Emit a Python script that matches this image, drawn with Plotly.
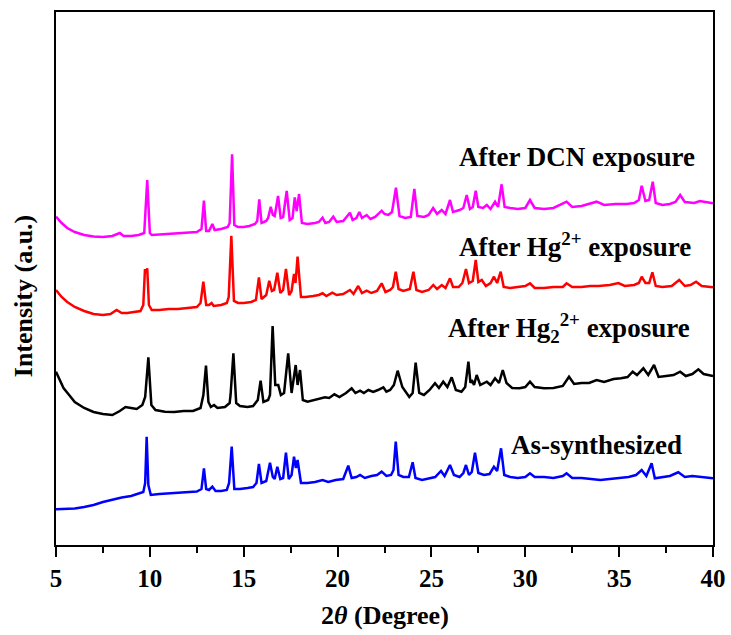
import plotly.graph_objects as go

# Powder XRD patterns, (2theta, intensity) pairs; intensities already stacked with offsets.
AS_SYNTHESIZED = [
    (5.0, 35.7), (5.5, 36), (6.0, 36.5), (6.5, 38), (7.0, 40), (7.5, 43), (8.0, 45.5), (8.5, 47.5),
    (9.0, 49), (9.4, 51), (9.65, 53), (9.75, 62), (9.83, 108.3), (9.92, 60), (10.05, 50), (10.5, 51),
    (11.0, 51.5), (11.5, 52), (12.0, 52.5), (12.5, 53.5), (12.75, 56), (12.88, 76.7), (13.0, 56),
    (13.15, 55), (13.33, 58.3), (13.5, 54), (13.8, 54), (14.1, 55), (14.22, 62), (14.36, 98.3),
    (14.5, 56), (14.8, 56), (15.2, 57), (15.5, 58), (15.68, 62), (15.81, 81), (15.95, 62), (16.2, 64),
    (16.4, 82.3), (16.55, 68), (16.65, 66), (16.79, 78.3), (16.95, 66), (17.1, 67), (17.25, 92.3),
    (17.4, 66), (17.55, 70), (17.68, 88.3), (17.78, 77), (17.87, 85), (18.05, 62), (18.4, 62),
    (18.8, 63), (19.2, 65), (19.5, 63), (19.9, 65), (20.3, 66), (20.57, 79.3), (20.75, 67), (21.0, 68),
    (21.2, 70), (21.45, 67), (21.8, 69), (22.1, 70), (22.35, 73.3), (22.6, 69), (22.85, 70),
    (22.98, 75), (23.1, 103.3), (23.25, 70), (23.5, 68), (23.8, 68), (24.0, 82.7), (24.15, 67),
    (24.5, 65), (24.9, 67), (25.2, 68), (25.51, 74), (25.7, 69), (25.99, 80), (26.2, 70), (26.5, 68),
    (26.7, 72), (26.84, 80), (27.0, 70), (27.15, 73), (27.32, 92.3), (27.5, 72), (27.8, 70),
    (28.1, 71), (28.33, 78.3), (28.5, 74), (28.71, 96.7), (28.88, 70), (29.2, 68), (29.6, 67),
    (30.0, 68), (30.25, 71.7), (30.5, 68), (31.0, 68), (31.5, 67), (32.0, 69), (32.2, 71.7),
    (32.5, 67), (33.0, 67), (33.5, 66), (34.0, 65), (34.5, 66), (35.0, 67), (35.5, 68), (35.9, 70),
    (36.2, 75), (36.45, 69), (36.73, 81.7), (36.9, 66.7), (37.3, 68), (37.7, 69), (38.15, 72.7),
    (38.5, 68), (38.9, 69), (39.3, 68), (39.7, 67), (40.0, 66.7),
]

AFTER_HG2_2 = [
    (5.0, 173.3), (5.2, 165), (5.4, 157), (5.7, 150), (6.0, 143), (6.5, 137), (7.0, 133), (7.5, 131),
    (8.0, 130), (8.4, 134), (8.7, 138), (9.0, 137), (9.3, 136), (9.6, 140), (9.75, 148), (9.92, 187.7),
    (10.08, 140), (10.3, 135), (10.8, 133.3), (11.3, 133), (11.8, 134), (12.3, 134), (12.7, 137),
    (12.85, 150), (12.99, 179.3), (13.12, 143), (13.25, 138), (13.42, 140), (13.6, 137), (14.0, 138),
    (14.25, 142), (14.3, 150), (14.45, 191.7), (14.6, 142), (14.8, 139), (15.2, 138), (15.5, 139),
    (15.75, 145), (15.9, 164.3), (16.05, 143), (16.3, 145), (16.4, 150), (16.54, 219), (16.68, 160),
    (16.84, 160), (16.98, 150), (17.15, 152), (17.37, 191.7), (17.55, 152), (17.77, 180), (17.87, 160),
    (18.0, 175), (18.15, 145), (18.4, 143.3), (18.8, 145), (19.1, 146), (19.33, 147.7), (19.55, 147),
    (19.83, 150.7), (20.1, 148), (20.45, 152), (20.75, 156.7), (20.95, 152), (21.2, 154.3),
    (21.4, 152), (21.64, 155), (21.9, 153), (22.15, 155), (22.44, 157.7), (22.6, 153.3), (22.8, 155),
    (23.0, 160), (23.2, 174.3), (23.45, 158), (23.82, 148), (24.0, 152), (24.16, 182.3), (24.35, 152),
    (24.6, 150), (24.9, 155), (25.19, 161.7), (25.4, 157), (25.63, 163.3), (25.85, 158),
    (26.08, 167.7), (26.3, 155), (26.6, 153.3), (26.8, 158), (26.97, 183.3), (27.08, 162),
    (27.15, 165), (27.27, 160), (27.41, 170), (27.6, 160), (27.95, 163.3), (28.15, 160),
    (28.39, 166.7), (28.6, 162), (28.8, 175), (29.0, 162), (29.3, 157), (29.7, 156.7), (30.0, 158),
    (30.25, 163.3), (30.5, 158), (31.0, 156.7), (31.5, 157), (32.0, 159), (32.33, 168.3), (32.6, 161),
    (33.0, 162), (33.4, 162), (33.8, 165), (34.2, 163), (34.7, 166), (35.1, 166.7), (35.45, 168),
    (35.72, 173.3), (35.95, 170), (36.29, 176.7), (36.55, 170), (36.86, 180), (37.1, 168),
    (37.5, 169), (37.9, 170), (38.25, 173.3), (38.55, 169), (38.9, 171), (39.22, 175.7), (39.5, 171),
    (39.8, 170), (40.0, 169),
]

AFTER_HG2PLUS = [
    (5.0, 255), (5.3, 248), (5.6, 243), (6.0, 238), (6.5, 234), (7.0, 231), (7.5, 230), (7.9, 231),
    (8.23, 235), (8.5, 232), (8.8, 232), (9.2, 233), (9.5, 234), (9.65, 240), (9.74, 276), (9.8, 272),
    (9.86, 276.7), (9.95, 240), (10.1, 235), (10.5, 235), (11.0, 236), (11.5, 236), (12.0, 237),
    (12.5, 238), (12.7, 242), (12.85, 263.3), (13.0, 240), (13.15, 240), (13.29, 242), (13.4, 239),
    (13.8, 240), (14.1, 242), (14.2, 248), (14.34, 309.3), (14.48, 244), (14.7, 242), (15.0, 242),
    (15.4, 243), (15.65, 245), (15.81, 267.7), (15.95, 246), (16.2, 250), (16.36, 264.3), (16.5, 254),
    (16.62, 255), (16.79, 272.3), (16.95, 252), (17.1, 255), (17.25, 276), (17.42, 250), (17.55, 254),
    (17.68, 271), (17.76, 262), (17.87, 288.3), (18.05, 248), (18.3, 248), (18.7, 249), (19.0, 250),
    (19.2, 251.7), (19.4, 249), (19.72, 252.3), (19.95, 250), (20.3, 251), (20.66, 255), (20.85, 251),
    (21.1, 259), (21.3, 252), (21.55, 254.3), (21.8, 252), (22.1, 254), (22.35, 261.7), (22.55, 253),
    (22.8, 255), (22.95, 258), (23.1, 273.3), (23.25, 256), (23.5, 254), (23.85, 256), (24.04, 273.3),
    (24.2, 255), (24.5, 253), (24.85, 255), (25.1, 260), (25.3, 256), (25.55, 260), (25.75, 257),
    (25.99, 266.7), (26.15, 258), (26.45, 258), (26.65, 262), (26.84, 276), (27.0, 262), (27.2, 264),
    (27.36, 285), (27.5, 263), (27.68, 265), (27.9, 259), (28.15, 262), (28.33, 268.3), (28.5, 262),
    (28.69, 273.3), (28.85, 258), (29.2, 257), (29.6, 258), (30.0, 259), (30.25, 261.7), (30.5, 257),
    (31.0, 257), (31.5, 258), (32.0, 258), (32.2, 261.7), (32.5, 258), (33.0, 258), (33.45, 259),
    (33.9, 259), (34.5, 260), (34.96, 262), (35.3, 259), (35.8, 260), (36.05, 262), (36.2, 268.3),
    (36.4, 262), (36.6, 262), (36.77, 272.7), (36.95, 259), (37.3, 258), (37.8, 259), (38.2, 265),
    (38.5, 259), (38.8, 260), (39.1, 263.3), (39.4, 259), (39.7, 258), (40.0, 257.7),
]

AFTER_DCN = [
    (5.0, 328.3), (5.3, 322), (5.6, 317), (6.0, 313), (6.5, 310), (7.0, 308.5), (7.5, 308), (8.0, 309),
    (8.4, 312), (8.6, 309), (9.0, 309), (9.4, 310), (9.7, 312), (9.86, 365), (10.0, 312), (10.1, 310),
    (10.5, 310.5), (11.0, 311), (11.5, 312), (12.0, 312.5), (12.5, 313), (12.75, 316), (12.88, 344.3),
    (13.0, 314), (13.15, 314), (13.33, 321), (13.45, 315), (13.8, 316), (14.15, 318), (14.25, 322),
    (14.38, 390.7), (14.5, 320), (14.7, 318), (15.0, 318), (15.3, 319), (15.6, 321), (15.72, 324),
    (15.83, 345.7), (15.95, 322), (16.2, 324), (16.3, 327), (16.44, 338.3), (16.55, 330), (16.65, 329),
    (16.83, 349), (16.97, 327), (17.1, 328), (17.29, 354), (17.45, 325), (17.6, 327), (17.72, 347.7),
    (17.82, 334), (17.95, 351), (18.1, 322), (18.4, 321), (18.8, 322), (19.0, 323), (19.2, 327.3),
    (19.35, 322), (19.55, 323), (19.77, 328.3), (19.95, 323), (20.3, 324), (20.66, 332.3), (20.8, 325),
    (21.0, 327), (21.16, 333), (21.3, 327), (21.55, 330), (21.75, 326), (22.0, 328), (22.35, 334.3),
    (22.5, 331), (22.7, 330), (22.9, 333), (23.11, 357.3), (23.3, 329), (23.6, 327), (23.9, 328),
    (24.09, 356), (24.25, 329), (24.6, 328), (24.85, 330), (25.09, 337), (25.3, 331), (25.55, 335),
    (25.75, 331), (25.99, 345), (26.15, 333), (26.5, 335), (26.7, 337), (26.88, 350), (27.05, 336),
    (27.2, 338), (27.36, 354.3), (27.5, 338), (27.75, 337), (27.95, 340), (28.15, 336), (28.39, 343.3),
    (28.55, 338), (28.74, 360.7), (28.9, 338), (29.2, 337), (29.6, 336), (30.0, 337), (30.25, 345),
    (30.5, 337), (31.0, 336), (31.5, 337), (32.2, 343.3), (32.5, 338), (33.0, 339), (33.8, 343.3),
    (34.2, 340), (34.8, 341), (35.4, 341), (35.8, 342), (36.05, 345), (36.2, 359.3), (36.4, 344),
    (36.6, 345), (36.79, 363.3), (36.95, 342), (37.3, 340), (37.7, 341), (38.0, 343), (38.25, 350),
    (38.5, 343), (39.0, 342), (39.3, 344), (39.6, 343), (40.0, 341.7),
]

SERIES_NAMES = ["As-synthesized", "After Hg<sub>2</sub><sup>2+</sup> exposure",
                "After Hg<sup>2+</sup> exposure", "After DCN exposure"]
SERIES_DATA = [AS_SYNTHESIZED, AFTER_HG2_2, AFTER_HG2PLUS, AFTER_DCN]
SERIES_COLORS = ["#0000FF", "#000000", "#FF0000", "#FF00FF"]

# Label anchor (right edge x, vertical centre) for each pattern
LABEL_POS = [(38.47, 100), (38.87, 217), (38.95, 300), (39.15, 388)]

X_TICKS = [5, 10, 15, 20, 25, 30, 35, 40]

FONT = "Liberation Serif, Times New Roman, serif"

fig = go.Figure()
for name, pts, color in zip(SERIES_NAMES, SERIES_DATA, SERIES_COLORS):
    xs = [p[0] for p in pts]
    ys = [p[1] for p in pts]
    fig.add_trace(go.Scatter(x=xs, y=ys, mode="lines", name=name,
                             line=dict(color=color, width=2.5), showlegend=False))

for name, (lx, ly) in zip(SERIES_NAMES, LABEL_POS):
    fig.add_annotation(x=lx, y=ly, xref="x", yref="y", text=f"<b>{name}</b>",
                       showarrow=False, xanchor="right", yanchor="middle",
                       font=dict(family=FONT, size=27, color="black"))

# axis titles
fig.add_annotation(x=0.5, y=-0.132, xref="paper", yref="paper", xanchor="center", yanchor="middle",
                   text="<b>2<i>θ</i> (Degree)</b>", showarrow=False,
                   font=dict(family=FONT, size=26, color="black"))
fig.add_annotation(x=-0.05, y=0.467, xref="paper", yref="paper", xanchor="center", yanchor="middle",
                   showarrow=False, text="<b>Intensity (a.u.)</b>", textangle=-90,
                   font=dict(family=FONT, size=26, color="black"))

fig.update_layout(
    width=731, height=635,
    margin=dict(l=56, r=18, t=12, b=90, autoexpand=False),
    paper_bgcolor="white", plot_bgcolor="white",
    font=dict(family=FONT, color="black"),
    xaxis=dict(range=[5, 40], tickvals=X_TICKS, ticktext=[str(t) for t in X_TICKS],
               showline=True, linecolor="black", linewidth=2, mirror=True, automargin=False,
               ticks="outside", ticklen=10, tickwidth=2, tickcolor="black",
               minor=dict(dtick=2.5, ticks="outside", ticklen=6, tickwidth=2, tickcolor="black"),
               showgrid=False, zeroline=False,
               tickfont=dict(family=FONT, size=25, color="black", weight="bold")),
    yaxis=dict(range=[0, 533], showline=True, linecolor="black", linewidth=2, mirror=True,
               automargin=False, showticklabels=False, ticks="", showgrid=False, zeroline=False),
)

fig.write_html("out.html")
